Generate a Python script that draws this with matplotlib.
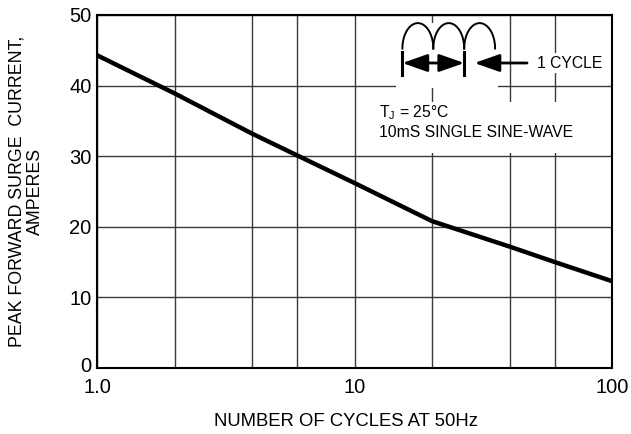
import numpy as np
import matplotlib
matplotlib.use("Agg")
import matplotlib.pyplot as plt
from matplotlib.patches import Rectangle
from matplotlib.transforms import ScaledTranslation

plt.rcParams['font.family'] = ['Liberation Sans', 'DejaVu Sans']

# data
cycles = [1, 2, 4, 6, 10, 20, 40, 60, 100]
current = [44.3, 38.9, 33.2, 30.1, 26.2, 20.8, 17.2, 15.0, 12.3]
grid_x = [1, 2, 4, 6, 10, 20, 40, 60, 100]
x_ticks = [1, 10, 100]
x_tick_labels = ["1.0", "10", "100"]
y_ticks = [0, 10, 20, 30, 40, 50]

fig = plt.figure(figsize=(6.31, 4.34), dpi=100)
ax = fig.add_axes([97/631, 66/434, 515/631, 353/434])
ax.set_xscale('log')
ax.set_xlim(1, 100)
ax.set_ylim(0, 50)

ax.set_xticks(x_ticks)
ax.set_xticklabels(x_tick_labels)
ax.xaxis.set_minor_locator(matplotlib.ticker.NullLocator())
ax.set_yticks(y_ticks)
ax.tick_params(length=0, labelsize=14.5)
ax.tick_params(axis='x', pad=7)
ax.tick_params(axis='y', pad=4)

fig.canvas.draw()
ylab0 = ax.get_yticklabels()[0]
ylab0.set_transform(ylab0.get_transform() + ScaledTranslation(0, 2.5/72, fig.dpi_scale_trans))

for gx in grid_x:
    ax.axvline(gx, color='#3a3a3a', lw=1.0, zorder=0.5)
for gy in y_ticks:
    ax.axhline(gy, color='#3a3a3a', lw=1.0, zorder=0.5)

for s in ax.spines.values():
    s.set_linewidth(1.5)
    s.set_zorder(3)

ax.plot(cycles, current, color='black', lw=3.2, zorder=2, solid_capstyle='butt')

ax.set_xlabel("NUMBER OF CYCLES AT 50Hz", fontsize=13.3)
ax.xaxis.set_label_coords(0.483, -0.128)
ax.set_ylabel("PEAK FORWARD SURGE  CURRENT,\nAMPERES", fontsize=12.8, linespacing=1.15)
ax.yaxis.set_label_coords(-0.103, 0.5)

T = ax.transAxes
# white areas hiding grid
ax.add_patch(Rectangle((0.581, 0.793), 0.198, 0.184, transform=T, facecolor='white', edgecolor='none', zorder=1))
ax.add_patch(Rectangle((0.54, 0.609), 0.41, 0.145, transform=T, facecolor='white', edgecolor='none', zorder=1))

# humps
hx = [0.593, 0.653, 0.713]
w = 0.060
base, h = 0.905, 0.072
t = np.linspace(0, np.pi, 60)
for x0 in hx:
    c = x0 + w/2
    ax.plot(c + (w/2)*np.cos(t), base + h*np.sin(t), color='black', lw=1.4, transform=T, zorder=4, clip_on=False)

# bars
for bx in [0.593, 0.713]:
    ax.plot([bx, bx], [0.830, 0.895], color='black', lw=2.2, transform=T, zorder=4)

ya = 0.864
ax.annotate('', xy=(0.593, ya), xytext=(0.713, ya), xycoords=T, textcoords=T,
            arrowprops=dict(arrowstyle='<|-|>,head_length=0.85,head_width=0.3', lw=2.0,
                            color='black', shrinkA=0, shrinkB=0, mutation_scale=18), zorder=4)
ax.annotate('', xy=(0.733, ya), xytext=(0.835, ya), xycoords=T, textcoords=T,
            arrowprops=dict(arrowstyle='-|>,head_length=0.85,head_width=0.3', lw=2.0,
                            color='black', shrinkA=0, shrinkB=0, mutation_scale=18), zorder=4)
ax.text(0.855, ya, "1 CYCLE", transform=T, fontsize=11.3, va='center', ha='left', zorder=4,
        bbox=dict(facecolor='white', edgecolor='none', pad=1.5))

ax.text(0.548, 0.722, "T$_\\mathregular{J}$ = 25°C", transform=T, fontsize=11.3, va='center', ha='left', zorder=4)
ax.text(0.548, 0.666, "10mS SINGLE SINE-WAVE", transform=T, fontsize=11.3, va='center', ha='left', zorder=4)

fig.savefig("out.png", dpi=100)
